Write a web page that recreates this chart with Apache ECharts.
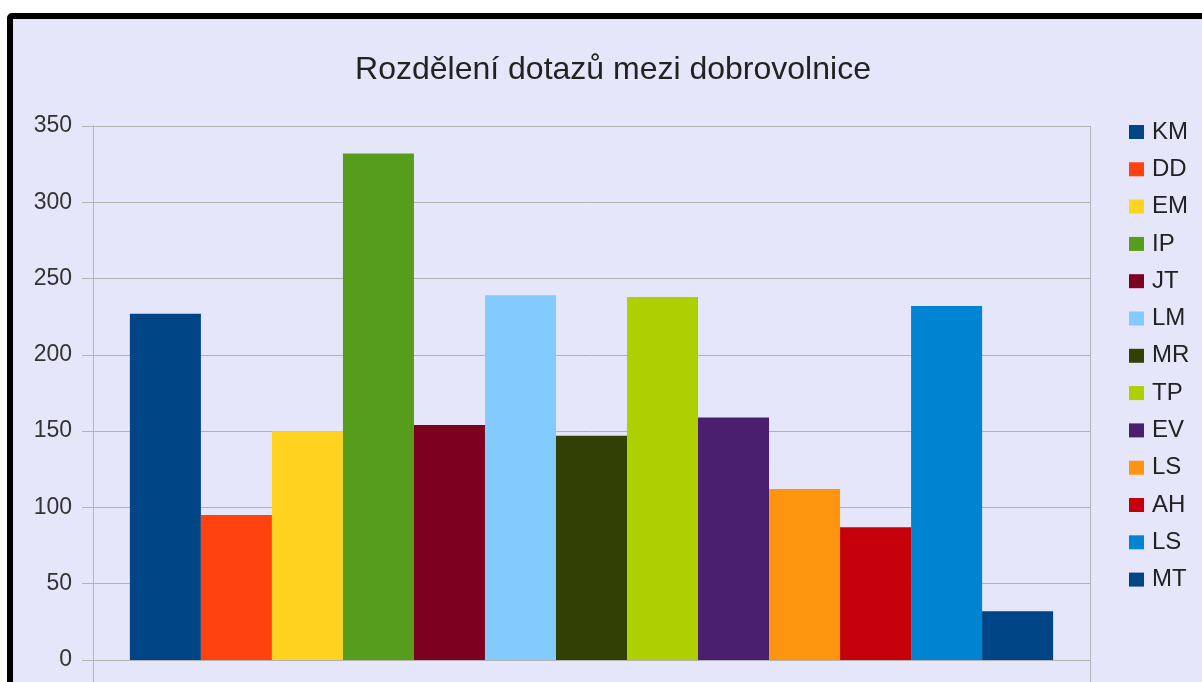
<!DOCTYPE html>
<html>
<head>
<meta charset="utf-8">
<script src="https://cdn.jsdelivr.net/npm/echarts@6/dist/echarts.min.js"></script>
<style>
  html, body { margin: 0; padding: 0; background: #fff; }
  #frame {
    position: absolute; left: 7px; top: 13px;
    width: 1300px; height: 800px;
    border: 6px solid #000; border-radius: 5px;
    background: #e6e6fa;
  }
  #chart { position: absolute; left: 0; top: 0; width: 1202px; height: 682px; }
</style>
</head>
<body>
<div id="frame"></div>
<div id="chart"></div>
<script>
// dobrovolnice a počty dotazů
var names = ["KM", "DD", "EM", "IP", "JT", "LM", "MR", "TP", "EV", "LS", "AH", "LS", "MT"];
var values = [227, 95, 150, 332, 154, 239, 147, 238, 159, 112, 87, 232, 32];
var yTicks = [0, 50, 100, 150, 200, 250, 300, 350];

var palette = ["#004586", "#ff420e", "#ffd320", "#579d1c", "#7e0021", "#83caff",
  "#314004", "#aecf00", "#4b1f6f", "#ff950e", "#c5000b", "#0084d1", "#004586"];

var chart = echarts.init(document.getElementById("chart"));
var font = "'Liberation Sans', Arial, sans-serif";
var gridColor = "#b3b3b3";

// duplicitní jména (LS) -> unikátní klíč pro legendu
var seen = {};
var keys = names.map(function(n) {
  var k = n;
  while (seen[k]) { k = k + " "; }
  seen[k] = true;
  return k;
});

var series = keys.map(function(k, i) {
  return {
    name: k,
    type: "bar",
    barGap: 0,
    barCategoryGap: "7.4%",
    itemStyle: { color: palette[i] },
    data: [values[i]]
  };
});

chart.setOption({
  backgroundColor: "transparent",
  animation: false,
  textStyle: { fontFamily: font },
  title: {
    text: "Rozdělení dotazů mezi dobrovolnice",
    left: 608, textAlign: "center",
    top: 49,
    textStyle: { fontFamily: font, fontSize: 32, fontWeight: "normal", color: "#222" }
  },
  legend: {
    orient: "vertical",
    left: 1124, top: 115,
    itemWidth: 15, itemHeight: 14, itemGap: 13.3,
    icon: "rect",
    formatter: function(n) { return n.trim(); },
    textStyle: { fontFamily: font, fontSize: 24, color: "#222", lineHeight: 24, padding: [0, 0, 0, 3] },
    data: keys
  },
  grid: { left: 93, right: 112, top: 126, bottom: 22 },
  xAxis: {
    type: "category",
    data: [""],
    axisLine: { show: true, lineStyle: { color: gridColor } },
    axisTick: { show: true, length: 30, lineStyle: { color: gridColor } },
    axisLabel: { show: false },
    splitLine: { show: true, lineStyle: { color: gridColor } }
  },
  yAxis: {
    type: "value",
    min: yTicks[0], max: yTicks[yTicks.length - 1], interval: 50,
    axisLine: { show: true, lineStyle: { color: gridColor } },
    axisTick: { show: true, length: 11, lineStyle: { color: gridColor } },
    axisLabel: { fontFamily: font, fontSize: 23, color: "#333", margin: 21 },
    splitLine: { show: true, lineStyle: { color: gridColor } }
  },
  series: series
});
</script>
</body>
</html>
